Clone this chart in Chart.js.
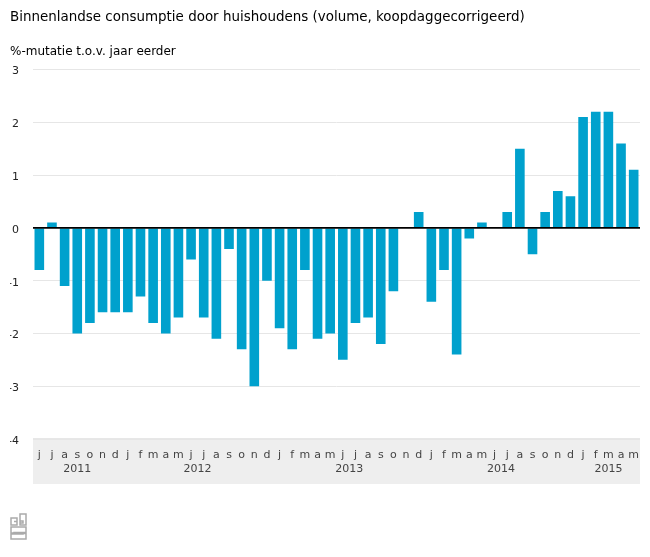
<!DOCTYPE html>
<html><head><meta charset="utf-8">
<script src="https://cdn.jsdelivr.net/npm/chart.js@4"></script>
<style>
html,body{margin:0;padding:0;background:#fff;}
#wrap{position:relative;width:650px;height:557px;overflow:hidden;}
canvas{position:absolute;left:0;top:0;}
#logo{position:absolute;left:10px;top:513px;}
</style></head>
<body><div id="wrap">
<canvas id="c" width="650" height="557"></canvas>
<svg id="logo" width="17" height="27" viewBox="0 0 17 27" fill="none" stroke="#aaa" stroke-width="1.5">
<path d="M1 12V5h6v7zM4 8.5h3M10 12V1h6v11zM10 8h3v2h-3"/><path d="M1 14h15v5.5H4v1h12V26H1v-5h12v-1H1z"/>
</svg>
</div>
<script>
const titleText = 'Binnenlandse consumptie door huishoudens (volume, koopdaggecorrigeerd)';
const unitText = '%-mutatie t.o.v. jaar eerder';
const months = ['j','j','a','s','o','n','d','j','f','m','a','m','j','j','a','s','o','n','d','j','f','m','a','m','j','j','a','s','o','n','d','j','f','m','a','m','j','j','a','s','o','n','d','j','f','m','a','m'];
const values = [-0.8,0.1,-1.1,-2.0,-1.8,-1.6,-1.6,-1.6,-1.3,-1.8,-2.0,-1.7,-0.6,-1.7,-2.1,-0.4,-2.3,-3.0,-1.0,-1.9,-2.3,-0.8,-2.1,-2.0,-2.5,-1.8,-1.7,-2.2,-1.2,0,0.3,-1.4,-0.8,-2.4,-0.2,0.1,0,0.3,1.5,-0.5,0.3,0.7,0.6,2.1,2.2,2.2,1.6,1.1];
const years = ['2011','2012','2013','2014','2015'];
const yearCenters = [3,12.5,24.5,36.5,45];

const band = {
  id:'band',
  beforeDraw(ch){
    const g=ch.ctx, a=ch.chartArea;
    g.save();
    g.fillStyle='#eeeeee';
    g.fillRect(a.left,a.bottom,a.right-a.left,484-a.bottom);
    g.fillStyle='#d0d0d0';
    g.fillRect(a.left,a.bottom-0.5,a.right-a.left,1);
    g.restore();
  },
  afterDatasetsDraw(ch){
    const g=ch.ctx, a=ch.chartArea, y=ch.scales.y.getPixelForValue(0);
    g.save();
    g.strokeStyle='#000'; g.lineWidth=1.6;
    g.beginPath(); g.moveTo(a.left,y); g.lineTo(a.right,y); g.stroke();
    g.restore();
  }
};

new Chart(document.getElementById('c'),{
  type:'bar',
  data:{labels:months,datasets:[{data:values,backgroundColor:'#00a1cd',barPercentage:0.76,categoryPercentage:1}]},
  plugins:[band],
  options:{
    responsive:false,animation:false,
    layout:{padding:{left:10,right:10,top:0,bottom:73}},
    plugins:{
      legend:{display:false},tooltip:{enabled:false},
      title:{display:true,text:titleText,align:'start',color:'#000',font:{family:'DejaVu Sans',size:13.45,weight:'normal'},padding:{top:9,bottom:0}},
      subtitle:{display:true,text:unitText,align:'start',color:'#000',font:{family:'DejaVu Sans',size:12,weight:'normal'},padding:{top:20,bottom:10}}
    },
    scales:{
      x:{
        position:'bottom',
        afterFit(s){s.height=22;},
        grid:{display:false,drawTicks:false},border:{display:false},
        ticks:{autoSkip:false,maxRotation:0,minRotation:0,color:'#444',padding:10,font:{family:'DejaVu Sans',size:11}}
      },
      x2:{
        type:'linear',position:'bottom',min:-0.5,max:47.5,offset:false,
        afterFit(s){s.height=23;},
        grid:{display:false,offset:false,drawTicks:false},border:{display:false},
        afterBuildTicks(s){s.ticks=yearCenters.map(v=>({value:v}));},
        ticks:{autoSkip:false,maxRotation:0,color:'#444',padding:2,font:{family:'DejaVu Sans',size:11},
          callback(v){return years[yearCenters.indexOf(v)];}}
      },
      y:{
        min:-4,max:3,
        afterFit(s){s.width=23;},
        grid:{color:'#e6e6e6',lineWidth:1,drawTicks:false},border:{display:false},
        ticks:{stepSize:1,color:'#222',padding:14,font:{family:'DejaVu Sans',size:11,lineHeight:'4px'},
          callback(v){return ['',String(v)];}}
      }
    }
  }
});
</script>
</body></html>
